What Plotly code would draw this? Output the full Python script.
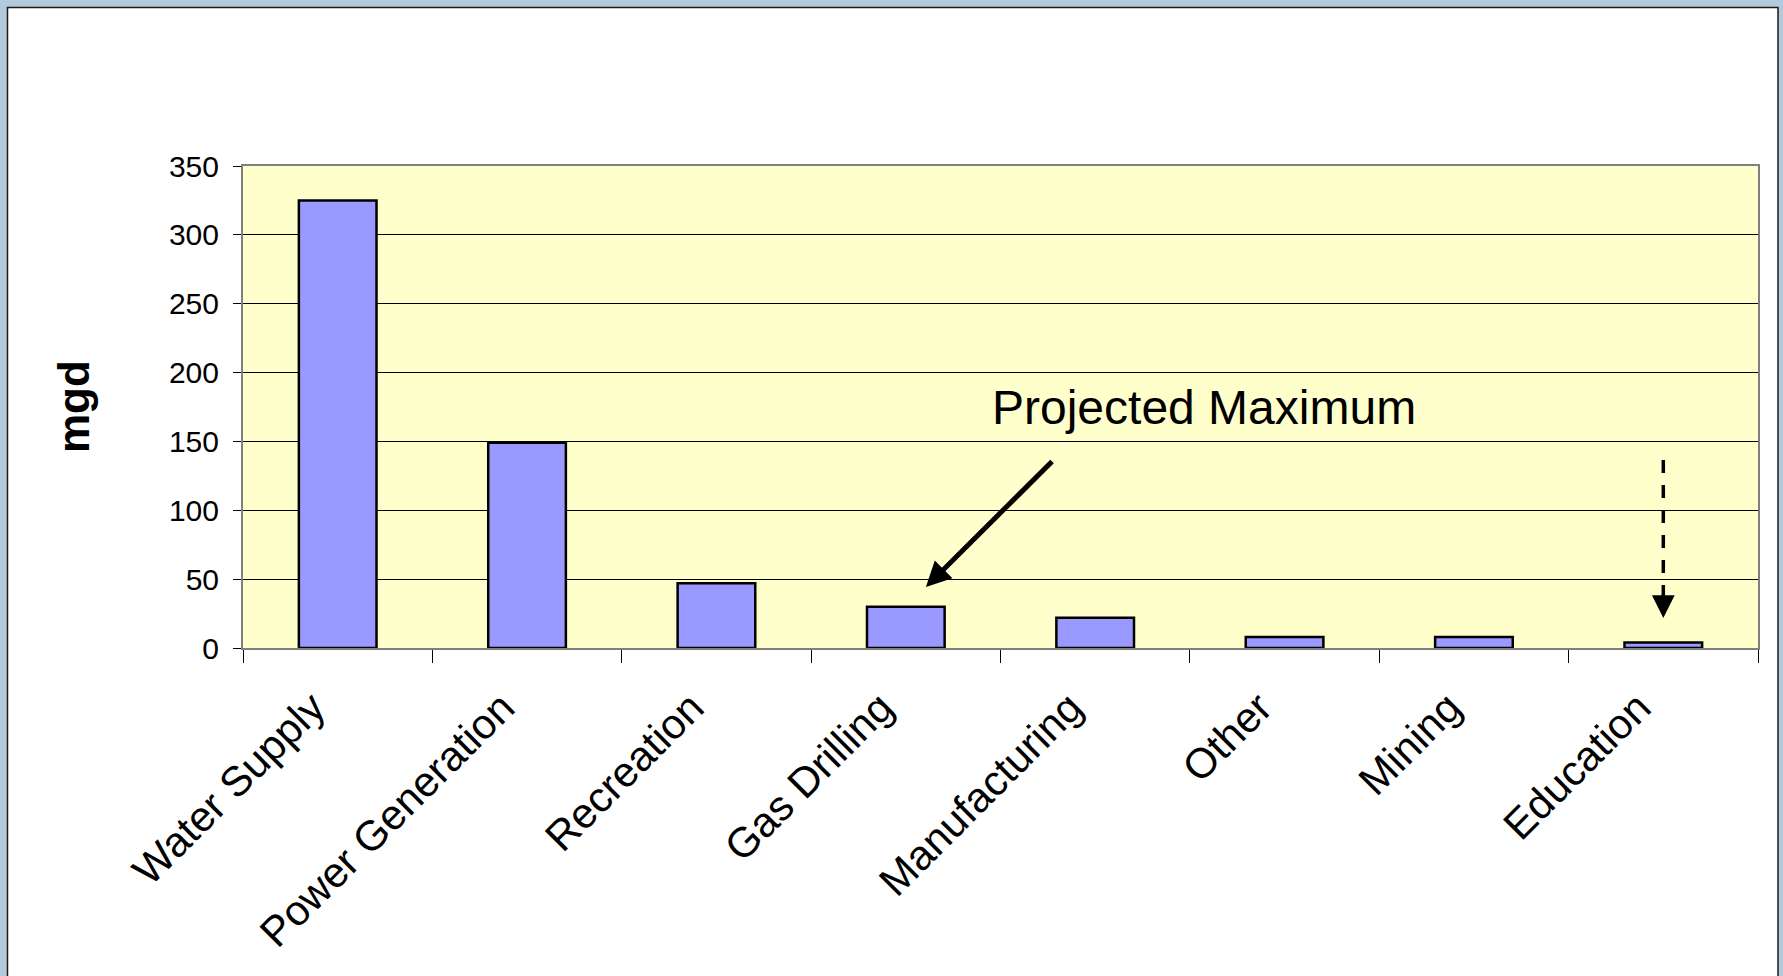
import plotly.graph_objects as go

# ---- data ----
categories = ["Water Supply", "Power Generation", "Recreation", "Gas Drilling",
              "Manufacturing", "Other", "Mining", "Education"]
values_mgd = [325, 149, 47, 30, 22, 8, 8, 4]
y_tick_values = [0, 50, 100, 150, 200, 250, 300, 350]
y_axis_label = "mgd"
note_text = "Projected Maximum"

FONT = "Liberation Sans, Arial, sans-serif"

fig = go.Figure(
    go.Bar(
        x=categories,
        y=values_mgd,
        marker=dict(color="#9999FF", line=dict(color="black", width=2.5)),
        hoverinfo="x+y",
    )
)

W, H = 1783, 976
ml, mr, mt, mb = 243, 25, 166, 328
pw = W - ml - mr
ph = H - mt - mb


def px_to_paper_x(px):
    return (px - ml) / pw


def px_to_paper_y(py):
    return (H - mb - py) / ph


fig.update_layout(
    width=W,
    height=H,
    autosize=False,
    margin=dict(l=ml, r=mr, t=mt, b=mb, pad=0),
    paper_bgcolor="#b2cadd",
    plot_bgcolor="rgba(0,0,0,0)",
    bargap=0.59,
    showlegend=False,
    font=dict(family=FONT, color="black"),
    xaxis=dict(
        type="category",
        range=[-0.5, 7.5],
        tickson="boundaries",
        ticks="outside",
        ticklen=13,
        tickwidth=1,
        tickcolor="black",
        tickangle=-45,
        tickfont=dict(size=42, family=FONT, color="black"),
        ticklabelshift=-25,
        ticklabelstandoff=16,
        showgrid=False,
        showline=True,
        linecolor="#7f7f7f",
        linewidth=2,
        mirror=True,
        automargin=False,
        fixedrange=True,
    ),
    yaxis=dict(
        range=[0, 350],
        tickvals=y_tick_values,
        ticks="outside",
        ticklen=8,
        tickwidth=1,
        tickcolor="black",
        tickfont=dict(size=30, family=FONT, color="black"),
        ticklabelstandoff=8,
        showgrid=True,
        gridcolor="black",
        gridwidth=1,
        zeroline=False,
        showline=True,
        linecolor="#7f7f7f",
        linewidth=2,
        mirror=True,
        automargin=False,
        fixedrange=True,
    ),
    shapes=[
        # white chart panel with black border
        dict(type="rect", xref="paper", yref="paper",
             x0=px_to_paper_x(7.5), x1=px_to_paper_x(1778),
             y0=px_to_paper_y(1000), y1=px_to_paper_y(7.5),
             fillcolor="white", line=dict(color="#1a1a1a", width=1.5), layer="below"),
        # pale yellow plot area
        dict(type="rect", xref="paper", yref="paper",
             x0=0, x1=1, y0=0, y1=1,
             fillcolor="#FFFFCC", line=dict(width=0), layer="below"),
        # dashed pointer line above Education
        dict(type="line", xref="x", yref="y",
             x0=7, x1=7, y0=136.5, y1=36,
             line=dict(color="black", width=3.5, dash="13px,12px"), layer="above"),
    ],
    annotations=[
        dict(text=note_text, xref="x", yref="y", x=4.574, y=175,
             showarrow=False, font=dict(size=48, family=FONT, color="black"),
             xanchor="center", yanchor="middle"),
        dict(text="", xref="x", yref="y", x=3.106, y=44.3,
             axref="x", ayref="y", ax=3.78, ay=136.5,
             showarrow=True, arrowhead=2, arrowwidth=5, arrowsize=1,
             arrowcolor="black"),
        dict(text="", xref="x", yref="y", x=7, y=21.8,
             axref="x", ayref="y", ax=7, ay=40,
             showarrow=True, arrowhead=2, arrowwidth=3.5, arrowsize=1.3,
             arrowcolor="black"),
        dict(text="<b>" + y_axis_label + "</b>", xref="paper", yref="paper",
             x=px_to_paper_x(73), y=0.5, textangle=-90, showarrow=False,
             font=dict(size=44, family=FONT, color="black"),
             xanchor="center", yanchor="middle"),
    ],
)

fig.write_html("out.html")
